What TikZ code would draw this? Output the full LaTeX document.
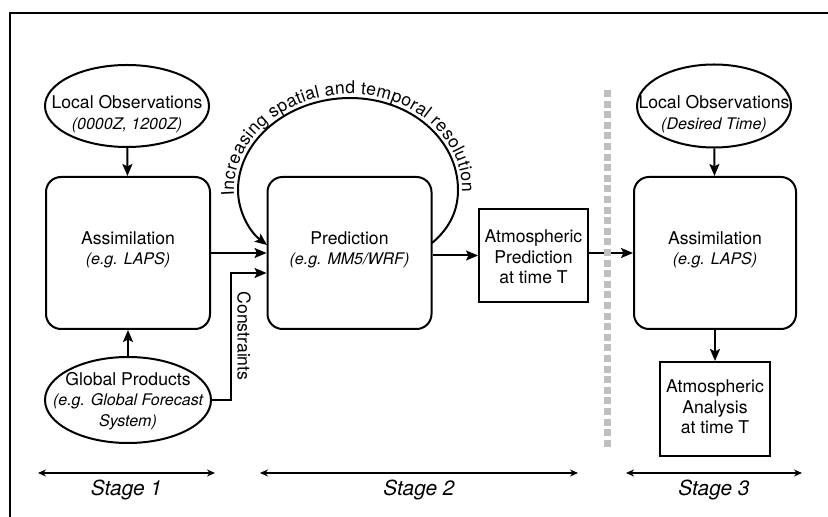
\documentclass[tikz,border=0pt]{standalone}
\usepackage{fontspec}
\setmainfont{TeX Gyre Heros}
\usetikzlibrary{shapes.geometric,arrows.meta,decorations.text}

\newcommand{\subtxt}[1]{{\fontsize{8}{10.3}\selectfont\itshape #1}}

\begin{document}
\begin{tikzpicture}[x=0.5pt,y=-0.5pt,
  font=\fontsize{8.8}{10.3}\selectfont,
  procbox/.style={draw,line width=1pt,rounded corners=7.5pt,minimum width=82pt,minimum height=76pt},
  outbox/.style={draw,line width=1pt,minimum width=54.5pt,minimum height=46.5pt},
  obsellipse/.style={draw,ellipse,line width=1pt,inner sep=0pt},
  txt/.style={align=center,inner sep=0pt},
  flow/.style={line width=1pt,-{Stealth[length=6pt,width=5pt,inset=1.2pt]}},
  stagearrow/.style={line width=0.7pt,{Stealth[length=4pt,width=3.5pt]}-{Stealth[length=4pt,width=3.5pt]}},
  stagelabel/.style={font=\fontsize{10.4}{12}\selectfont\itshape,anchor=base,inner sep=0pt},
  sepline/.style={draw=black!25,line width=3.5pt,dash pattern=on 3.5pt off 1.8pt}
]
\useasboundingbox (0,0) rectangle (828,517);
\draw[line width=1pt] (828,13) -- (10,13) -- (10,517);

\node[obsellipse,minimum width=82pt,minimum height=41pt] (lobs1) at (127,106) {};
\node[txt] (lobs1t) at (127,114) {Local Observations\\\subtxt{(0000Z, 1200Z)}};
\node[procbox] (assim1) at (128,253) {};
\node[txt] (assim1t) at (128,250) {Assimilation\\\subtxt{(e.g. LAPS)}};
\node[obsellipse,minimum width=83pt,minimum height=43pt] (glob) at (128,400) {};
\node[txt] (globt) at (128,401) {Global Products\\\subtxt{(e.g. Global Forecast}\\\subtxt{System)}};

\node[procbox] (pred) at (349.5,253) {};
\node[txt] (predt) at (349.5,250) {Prediction\\\subtxt{(e.g. MM5/WRF)}};
\node[outbox] (apred) at (533.5,255.5) {};
\node[txt] (apredt) at (533.5,257) {Atmospheric\\Prediction\\at time T};

\node[obsellipse,minimum width=77pt,minimum height=41.5pt] (lobs3) at (714,106) {};
\node[txt] (lobs3t) at (714,114) {Local Observations\\\subtxt{(Desired Time)}};
\node[procbox,minimum width=81pt] (assim3) at (715,253) {};
\node[txt] (assim3t) at (715,250) {Assimilation\\\subtxt{(e.g. LAPS)}};
\node[outbox,minimum width=55pt,minimum height=47pt] (aana) at (715,409) {};
\node[txt] (aanat) at (715,407) {Atmospheric\\Analysis\\at time T};

\draw[flow] (lobs1) -- (assim1);
\draw[flow] (glob) -- (assim1);
\draw[flow] (assim1) -- (pred);
\coordinate (cbend) at (231,273);
\draw[flow] (glob.east) -| (cbend) -- (cbend -| pred.west);
\node[rotate=-90,inner sep=0pt] (constr) at (244,336) {Constraints};
\draw[flow] (pred.east |- apred.west) -- (apred.west);
\draw[flow] (apred.east |- assim3.west) -- (assim3.west);
\draw[flow] (lobs3) -- (assim3);
\draw[flow] (assim3) -- (aana);

\coordinate (arcin) at (267,245);
\coordinate (arcout) at (432,243);
\draw[line width=1pt,{Stealth[length=6pt,width=5pt,inset=1.2pt]}-,
  postaction={decorate,decoration={text along path,text align=center,raise=2pt,
    text={|\fontsize{8.8}{10}\selectfont|Increasing spatial and temporal resolution}}}]
  (arcin) .. controls (250,232) and (238,212) .. (238,190)
  .. controls (238,139) and (290,98) .. (350,98)
  .. controls (410,98) and (458,139) .. (458,190)
  .. controls (458,210) and (450,228) .. (arcout);

\draw[sepline] (607,90) -- (607,447);

\foreach \n/\a/\b in {1/38/215,2/260/578,3/626/802}{
  \coordinate (s\n l) at (\a,473);
  \coordinate (s\n r) at (\b,473);
  \draw[stagearrow] (s\n l) -- (s\n r);
  \node[stagelabel] (stage\n) at ({(\a+\b)/2},495) {Stage \n};
}
\end{tikzpicture}
\end{document}
